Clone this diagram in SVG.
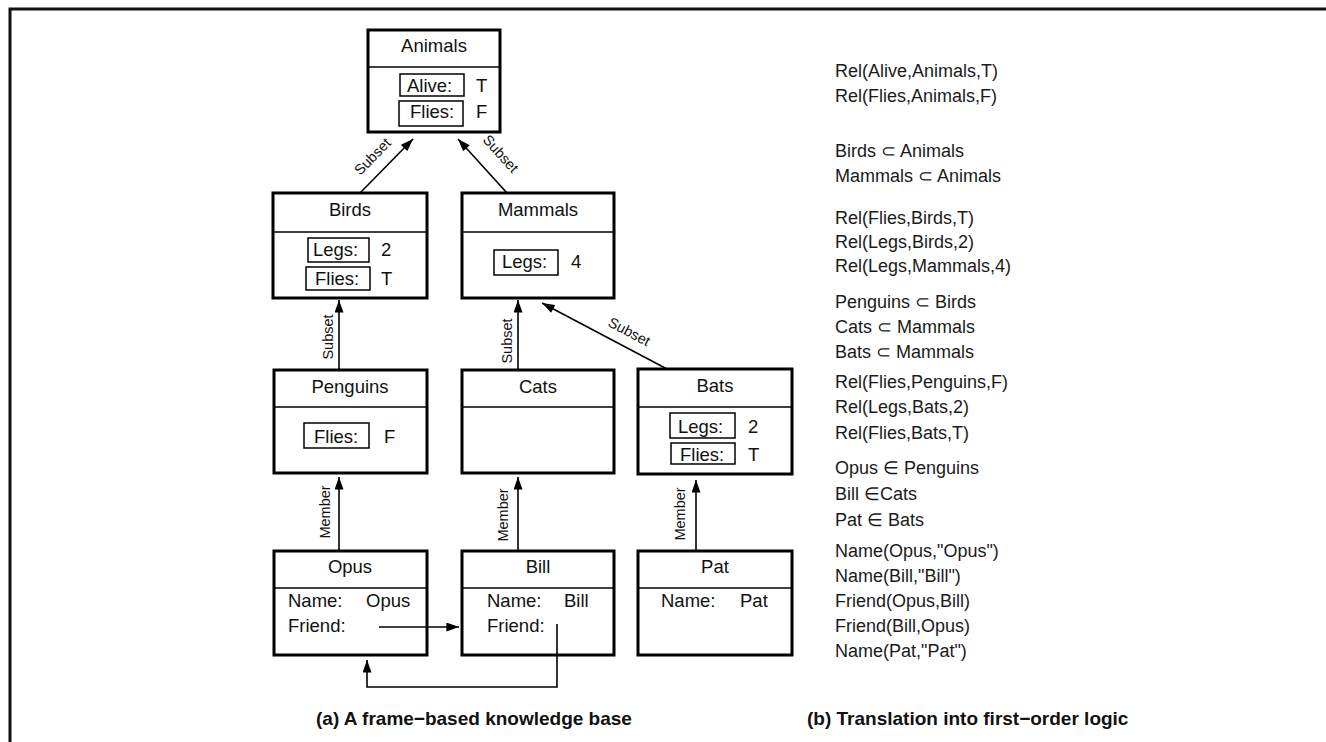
<svg xmlns="http://www.w3.org/2000/svg" width="1326" height="742" viewBox="0 0 1326 742">
  <style>
    text { font-family: "Liberation Sans", Arial, sans-serif; fill: #111; }
    .t { font-size: 18.5px; }
    .c { text-anchor: middle; }
    .lbl { font-size: 14.5px; text-anchor: middle; }
    .fol { font-size: 18px; fill: #1a1a1a; }
    .cap { font-size: 19px; font-weight: bold; }
    .frame { fill: #fff; stroke: #000; stroke-width: 3; }
    .div { stroke: #000; stroke-width: 1.5; }
    .slot { fill: none; stroke: #000; stroke-width: 1.5; }
    .edge { fill: none; stroke: #000; stroke-width: 1.6; }
  </style>
  <defs>
    <marker id="arr" viewBox="0 0 14 10" refX="14" refY="5" markerWidth="14" markerHeight="9" markerUnits="userSpaceOnUse" orient="auto">
      <path d="M0,0 L14,5 L0,10 Z" fill="#000"/>
    </marker>
  </defs>

  <rect width="1326" height="742" fill="#fff"/>
  <!-- outer border -->
  <path d="M10,742 V9 H1326" fill="none" stroke="#111" stroke-width="3"/>

  <!-- frames -->
  <g id="animals">
    <rect class="frame" x="368" y="30" width="132" height="102"/>
    <line class="div" x1="368" y1="67" x2="500" y2="67"/>
    <text class="t c" x="434" y="52">Animals</text>
    <rect class="slot" x="400" y="74" width="64" height="22"/>
    <text class="t" x="407" y="92">Alive:</text>
    <text class="t" x="476" y="92">T</text>
    <rect class="slot" x="399" y="101" width="64" height="25"/>
    <text class="t" x="410" y="118">Flies:</text>
    <text class="t" x="476" y="118">F</text>
  </g>

  <g id="birds">
    <rect class="frame" x="273" y="193" width="154" height="105"/>
    <line class="div" x1="273" y1="232" x2="427" y2="232"/>
    <text class="t c" x="350" y="216">Birds</text>
    <rect class="slot" x="308" y="238" width="61" height="24"/>
    <text class="t" x="313" y="256">Legs:</text>
    <text class="t" x="381" y="256">2</text>
    <rect class="slot" x="306" y="267" width="64" height="23"/>
    <text class="t" x="315" y="285">Flies:</text>
    <text class="t" x="381" y="285">T</text>
  </g>

  <g id="mammals">
    <rect class="frame" x="462" y="193" width="152" height="105"/>
    <line class="div" x1="462" y1="232" x2="614" y2="232"/>
    <text class="t c" x="538" y="216">Mammals</text>
    <rect class="slot" x="494" y="250" width="64" height="25"/>
    <text class="t" x="502" y="268">Legs:</text>
    <text class="t" x="571" y="268">4</text>
  </g>

  <g id="penguins">
    <rect class="frame" x="274" y="370" width="153" height="103"/>
    <line class="div" x1="274" y1="407" x2="427" y2="407"/>
    <text class="t c" x="350" y="393">Penguins</text>
    <rect class="slot" x="304" y="423" width="65" height="25"/>
    <text class="t" x="314" y="443">Flies:</text>
    <text class="t" x="384" y="443">F</text>
  </g>

  <g id="cats">
    <rect class="frame" x="462" y="370" width="152" height="103"/>
    <line class="div" x1="462" y1="407" x2="614" y2="407"/>
    <text class="t c" x="538" y="393">Cats</text>
  </g>

  <g id="bats">
    <rect class="frame" x="638" y="369" width="154" height="105"/>
    <line class="div" x1="638" y1="407" x2="792" y2="407"/>
    <text class="t c" x="715" y="392">Bats</text>
    <rect class="slot" x="670" y="413" width="65" height="25"/>
    <text class="t" x="678" y="433">Legs:</text>
    <text class="t" x="748" y="433">2</text>
    <rect class="slot" x="671" y="443" width="64" height="21"/>
    <text class="t" x="680" y="461">Flies:</text>
    <text class="t" x="748" y="461">T</text>
  </g>

  <g id="opus">
    <rect class="frame" x="274" y="551" width="153" height="104"/>
    <line class="div" x1="274" y1="588" x2="427" y2="588"/>
    <text class="t c" x="350" y="573">Opus</text>
    <text class="t" x="288" y="607">Name:</text>
    <text class="t" x="366" y="607">Opus</text>
    <text class="t" x="288" y="632">Friend:</text>
  </g>

  <g id="bill">
    <rect class="frame" x="462" y="551" width="152" height="104"/>
    <line class="div" x1="462" y1="588" x2="614" y2="588"/>
    <text class="t c" x="538" y="573">Bill</text>
    <text class="t" x="487" y="607">Name:</text>
    <text class="t" x="564" y="607">Bill</text>
    <text class="t" x="487" y="632">Friend:</text>
  </g>

  <g id="pat">
    <rect class="frame" x="638" y="551" width="154" height="104"/>
    <line class="div" x1="638" y1="588" x2="792" y2="588"/>
    <text class="t c" x="715" y="573">Pat</text>
    <text class="t" x="661" y="607">Name:</text>
    <text class="t" x="740" y="607">Pat</text>
  </g>

  <!-- connectors, drawn over the frames so slot pointers stay visible -->
  <g id="connectors">
    <line class="edge" x1="360" y1="193" x2="413" y2="139" marker-end="url(#arr)"/>
    <line class="edge" x1="507" y1="193" x2="458" y2="139" marker-end="url(#arr)"/>
    <line class="edge" x1="339" y1="370" x2="339" y2="300" marker-end="url(#arr)"/>
    <line class="edge" x1="518" y1="370" x2="518" y2="300" marker-end="url(#arr)"/>
    <line class="edge" x1="667" y1="369" x2="542" y2="303" marker-end="url(#arr)"/>
    <line class="edge" x1="339" y1="551" x2="339" y2="477" marker-end="url(#arr)"/>
    <line class="edge" x1="518" y1="551" x2="518" y2="477" marker-end="url(#arr)"/>
    <line class="edge" x1="696" y1="551" x2="696" y2="480" marker-end="url(#arr)"/>
    <line class="edge" x1="379" y1="627" x2="459" y2="627" marker-end="url(#arr)"/>
    <path class="edge" d="M557,624 V687 H367 V660" marker-end="url(#arr)"/>

    <text class="lbl" transform="translate(376,160) rotate(-45.5)">Subset</text>
    <text class="lbl" transform="translate(497,157) rotate(48)">Subset</text>
    <text class="lbl" transform="translate(333,337) rotate(-90)">Subset</text>
    <text class="lbl" transform="translate(512,341) rotate(-90)">Subset</text>
    <text class="lbl" transform="translate(627,336) rotate(28)">Subset</text>
    <text class="lbl" transform="translate(330,512) rotate(-90)">Member</text>
    <text class="lbl" transform="translate(508,515) rotate(-90)">Member</text>
    <text class="lbl" transform="translate(685,514) rotate(-90)">Member</text>
  </g>

  <!-- first-order logic translation -->
  <g id="logic" class="fol">
    <text class="fol" x="835" y="77">Rel(Alive,Animals,T)</text>
    <text class="fol" x="835" y="102">Rel(Flies,Animals,F)</text>
    <text class="fol" x="835" y="157">Birds  ⊂ Animals</text>
    <text class="fol" x="835" y="182">Mammals  ⊂ Animals</text>
    <text class="fol" x="835" y="224">Rel(Flies,Birds,T)</text>
    <text class="fol" x="835" y="248">Rel(Legs,Birds,2)</text>
    <text class="fol" x="835" y="272">Rel(Legs,Mammals,4)</text>
    <text class="fol" x="835" y="308">Penguins  ⊂ Birds</text>
    <text class="fol" x="835" y="333">Cats ⊂ Mammals</text>
    <text class="fol" x="835" y="358">Bats ⊂ Mammals</text>
    <text class="fol" x="835" y="388">Rel(Flies,Penguins,F)</text>
    <text class="fol" x="835" y="413">Rel(Legs,Bats,2)</text>
    <text class="fol" x="835" y="439">Rel(Flies,Bats,T)</text>
    <text class="fol" x="835" y="474">Opus ∈ Penguins</text>
    <text class="fol" x="835" y="500">Bill ∈Cats</text>
    <text class="fol" x="835" y="526">Pat ∈ Bats</text>
    <text class="fol" x="835" y="557">Name(Opus,"Opus")</text>
    <text class="fol" x="835" y="582">Name(Bill,"Bill")</text>
    <text class="fol" x="835" y="607">Friend(Opus,Bill)</text>
    <text class="fol" x="835" y="632">Friend(Bill,Opus)</text>
    <text class="fol" x="835" y="657">Name(Pat,"Pat")</text>
  </g>

  <g id="captions">
    <text class="cap" x="316" y="725">(a) A frame−based knowledge base</text>
    <text class="cap" x="807" y="725">(b) Translation into first−order logic</text>
  </g>
</svg>
